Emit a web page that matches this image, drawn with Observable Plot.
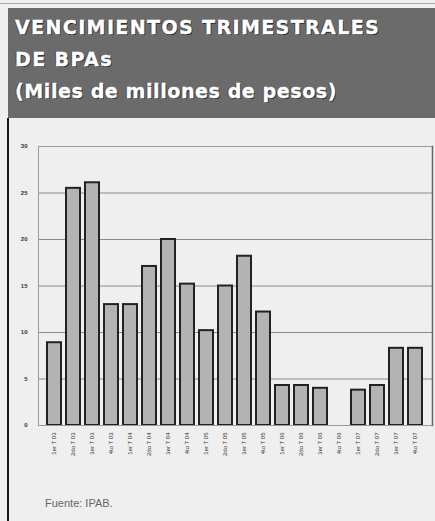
<!DOCTYPE html>
<html>
<head>
<meta charset="utf-8">
<script src="https://cdn.jsdelivr.net/npm/d3@7"></script>
<script src="https://cdn.jsdelivr.net/npm/@observablehq/plot@0.6"></script>
<style>
  html, body { margin: 0; padding: 0; }
  body { width: 435px; height: 521px; background: #efefef; position: relative; overflow: hidden; font-family: "Liberation Sans", Arial, sans-serif; }
  #topline { position: absolute; left: 0; top: 3px; width: 435px; height: 1px; background: #aaa; }
  #header { position: absolute; left: 8px; top: 8px; width: 427px; height: 110px; background: #6b6b6b; }
  #header div { position: absolute; left: 7px; color: #fff; font-family: "DejaVu Sans", sans-serif; font-weight: bold; font-size: 19px; white-space: nowrap; -webkit-text-stroke: 0.4px #fff; text-shadow: 1px 1px 0 #2a2a2a, -1px 0 0 #3a3a3a; }
  #l1 { top: 8px; letter-spacing: 1.4px; }
  #l2 { top: 40px; letter-spacing: 1.4px; }
  #l3 { top: 72px; letter-spacing: 0.6px; }
  #leftborder { position: absolute; left: 7px; top: 118px; width: 2px; height: 403px; background: #1a1a1a; }
  #chart { position: absolute; left: 0; top: 120px; }
  #caption { position: absolute; left: 45px; top: 497px; font-size: 11px; color: #666; }
</style>
</head>
<body>
<div id="topline"></div>
<div id="header">
  <div id="l1">VENCIMIENTOS TRIMESTRALES</div>
  <div id="l2">DE BPAs</div>
  <div id="l3">(Miles de millones de pesos)</div>
</div>
<div id="leftborder"></div>
<div id="chart"></div>
<div id="caption">Fuente: IPAB.</div>
<script>
const quarters = ["1er T 03","2do T 03","3er T 03","4to T 03","1er T 04","2do T 04","3er T 04","4to T 04","1er T 05","2do T 05","3er T 05","4to T 05","1er T 06","2do T 06","3er T 06","4to T 06","1er T 07","2do T 07","3er T 07","4to T 07"];
const values = [8.9, 25.5, 26.1, 13.0, 13.0, 17.1, 20.0, 15.2, 10.2, 15.0, 18.2, 12.2, 4.3, 4.3, 4.0, 0, 3.8, 4.3, 8.3, 8.3];
const yTicks = [0, 5, 10, 15, 20, 25, 30];

const data = quarters.map((q, i) => ({q, v: values[i]}));

const chart = Plot.plot({
  width: 435,
  height: 345,
  marginLeft: 38,
  marginRight: 3,
  marginTop: 26,
  marginBottom: 40,
  style: {background: "transparent", fontFamily: "Liberation Sans, Arial, sans-serif", color: "#222"},
  x: {domain: quarters, paddingInner: 0.25, paddingOuter: 0.18, label: null},
  y: {domain: [0, 30], label: null},
  marks: [
    Plot.gridY(yTicks, {stroke: "#8a8a8a", strokeOpacity: 1, strokeWidth: 1}),
    Plot.barY(data, {x: "q", y: "v", fill: "#b3b3b3", stroke: "#222", strokeWidth: 2}),
    Plot.frame({stroke: "#9a9a9a", strokeWidth: 1}),
    Plot.frame({anchor: "right", stroke: "#666", strokeWidth: 1.5}),
    Plot.axisY(yTicks, {tickSize: 0, tickPadding: 11, fontSize: 6, fontWeight: "bold", fill: "#333"}),
    Plot.axisX({tickSize: 0, tickPadding: 7, tickRotate: -90, fontSize: 6, fill: "#333"})
  ]
});
document.getElementById("chart").appendChild(chart);
</script>
</body>
</html>
